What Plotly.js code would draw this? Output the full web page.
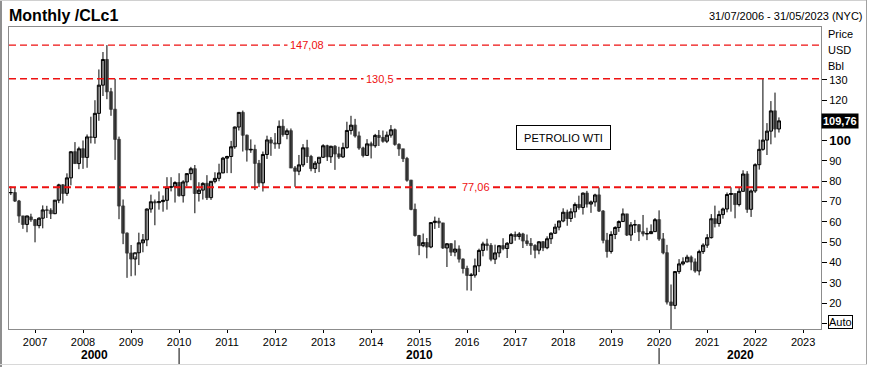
<!DOCTYPE html>
<html><head><meta charset="utf-8">
<script src="https://cdn.plot.ly/plotly-3.0.1.min.js"></script>
<style>html,body{margin:0;padding:0;background:#fff;}#chart{width:869px;height:367px;}</style>
</head><body><div id="chart"></div>
<script>
// ---- DATA (monthly CLc1, Jul 2006 - Jul 2022) ----
const startYear = 2006, startMonth = 7;
const open = [
 74.40,74.40,70.26,62.91,58.73,62.40,
 61.05,58.14,61.79,65.87,65.71,64.01,70.68,78.21,74.04,81.66,94.53,88.71,
 95.98,91.75,101.84,101.58,113.46,127.35,140.00,124.08,115.46,100.64,67.81,54.43,
 44.60,41.68,44.76,49.66,51.12,66.31,69.89,69.45,69.96,70.61,77.00,77.28,
 79.36,72.89,79.66,83.76,86.15,73.97,75.63,78.95,71.92,79.97,81.43,84.11,
 91.38,92.19,96.97,106.72,113.93,102.70,95.42,95.70,88.81,79.20,93.19,100.36,
 98.83,98.48,107.07,103.02,104.87,86.53,84.96,88.06,96.47,92.19,86.24,88.91,
 91.82,97.49,92.05,97.23,93.46,91.97,96.56,105.03,107.65,102.33,96.38,92.72,
 98.42,97.49,102.59,101.58,99.74,102.71,105.37,98.17,95.96,91.16,80.54,66.15,
 53.27,48.24,49.76,47.60,59.63,60.30,59.47,47.12,49.20,45.09,46.59,41.65,
 37.04,33.62,33.75,38.34,45.92,49.10,48.33,41.60,44.70,48.24,46.86,49.44,
 53.72,52.81,54.01,50.60,49.33,48.32,46.04,50.17,47.23,51.67,54.38,57.40,
 60.42,64.73,61.64,64.94,68.57,67.04,74.15,68.76,69.80,73.25,65.31,50.93,
 45.41,53.79,57.22,60.14,63.91,53.50,58.47,58.58,55.10,54.07,54.18,55.17,
 61.06,51.56,44.76,20.48,18.84,35.49,39.27,40.27,42.61,40.22,35.79,45.34,
 48.52,52.20,61.50,59.16,63.58,66.32,73.47,73.95,68.50,75.03,83.57,66.18,
 75.21,88.15,95.72,100.28,104.69,114.67,105.76
];
const high = [
 77.50,77.20,70.80,63.00,63.00,64.00,
 61.40,62.30,68.09,67.90,66.70,70.75,78.77,78.60,83.90,94.74,99.29,97.02,
 100.09,103.05,111.80,119.93,135.09,143.67,147.08,126.00,130.47,102.00,71.00,54.80,
 48.60,43.00,54.66,54.00,66.58,73.38,71.00,75.00,73.00,82.00,82.00,80.00,
 83.95,80.50,83.80,87.09,88.00,79.50,79.50,83.00,80.00,84.43,88.63,92.00,
 92.58,99.88,106.95,114.00,114.83,103.00,100.62,98.00,90.50,94.65,102.44,101.77,
 103.74,109.95,110.55,106.00,106.00,87.50,92.94,98.29,100.42,93.00,90.00,91.50,
 98.24,98.00,97.50,97.80,97.00,99.00,109.32,112.24,110.74,104.50,97.00,100.75,
 99.50,103.35,105.22,104.99,104.50,107.68,106.00,98.70,96.00,92.00,80.70,69.00,
 53.60,54.24,52.00,59.90,62.58,62.00,59.50,49.50,49.50,50.92,48.40,42.00,
 38.39,34.80,41.90,46.78,50.21,51.67,49.50,48.75,48.50,51.93,50.00,54.51,
 55.24,54.94,54.60,53.76,52.00,49.00,50.43,50.50,52.86,54.84,59.05,60.51,
 66.66,66.00,66.66,69.56,72.90,74.46,75.27,70.50,73.85,76.90,65.75,54.55,
 55.37,57.81,60.73,66.60,63.98,59.90,60.94,58.82,63.38,57.10,58.76,61.88,
 65.65,54.50,48.66,29.13,35.78,41.63,42.52,43.78,43.43,41.98,46.26,49.43,
 53.93,63.81,67.98,65.47,67.00,74.45,76.98,74.00,76.67,85.41,84.97,76.00,
 88.84,100.54,130.50,108.64,119.50,123.68,111.45
];
const low = [
 73.20,69.80,59.52,56.55,54.86,60.00,
 49.90,56.80,56.80,61.90,61.40,63.80,69.20,69.00,72.80,78.00,88.62,85.94,
 86.11,86.64,98.65,98.50,109.80,122.00,120.42,112.24,90.51,61.30,49.00,32.40,
 33.20,33.55,38.70,45.00,48.00,64.50,58.32,66.00,65.00,66.00,75.00,69.50,
 72.43,69.50,77.50,80.50,64.24,70.00,71.00,70.76,70.80,79.00,80.00,84.00,
 84.00,84.00,96.00,105.00,94.63,89.69,94.00,75.71,77.11,74.95,91.00,92.52,
 96.00,96.00,102.00,100.68,86.50,77.28,83.00,87.00,89.00,84.90,84.05,84.50,
 91.50,90.00,89.00,85.61,91.00,91.50,96.00,103.00,101.50,95.50,91.77,92.50,
 91.24,96.50,97.37,99.00,98.80,101.50,97.50,92.50,89.50,79.78,65.69,52.70,
 43.58,47.50,42.03,47.00,56.50,57.00,46.68,37.75,43.20,43.00,39.93,34.53,
 26.19,26.05,32.50,35.24,43.00,45.83,40.57,39.19,42.52,46.00,42.20,49.00,
 50.71,51.22,47.09,48.18,43.76,42.05,44.00,45.58,46.50,49.10,54.10,55.82,
 59.80,58.07,59.95,62.00,66.00,63.59,67.03,64.43,67.50,64.86,49.41,42.36,
 44.35,51.48,55.07,59.90,53.02,50.60,54.50,50.52,52.84,50.99,54.00,55.00,
 50.63,44.00,19.27,-37.63,17.00,34.36,38.50,40.00,36.13,34.92,33.64,44.18,
 47.18,51.78,57.25,57.63,61.56,64.68,65.01,61.74,67.58,74.96,64.43,62.43,
 74.27,85.73,95.04,92.93,98.20,101.53,104.00
];
const close = [
 74.40,70.26,62.91,58.73,62.90,61.05,
 58.14,61.79,65.87,65.71,64.01,70.68,78.21,74.04,81.66,94.53,88.71,95.98,
 91.75,101.84,101.58,113.46,127.35,140.00,124.08,115.46,100.64,67.81,54.43,44.60,
 41.68,44.76,49.66,51.12,66.31,69.89,69.45,69.96,70.61,77.00,77.28,79.36,
 72.89,79.66,83.76,86.15,73.97,75.63,78.95,71.92,79.97,81.43,84.11,91.38,
 92.19,96.97,106.72,113.93,102.70,95.42,95.70,88.81,79.20,93.19,100.36,98.83,
 98.48,107.07,103.02,104.87,86.53,84.96,88.06,96.47,92.19,86.24,88.91,91.82,
 97.49,92.05,97.23,93.46,91.97,96.56,105.03,107.65,102.33,96.38,92.72,98.42,
 97.49,102.59,101.58,99.74,102.71,105.37,98.17,95.96,91.16,80.54,66.15,53.27,
 48.24,49.76,47.60,59.63,60.30,59.47,47.12,49.20,45.09,46.59,41.65,37.04,
 33.62,33.75,38.34,45.92,49.10,48.33,41.60,44.70,48.24,46.86,49.44,53.72,
 52.81,54.01,50.60,49.33,48.32,46.04,50.17,47.23,51.67,54.38,57.40,60.42,
 64.73,61.64,64.94,68.57,67.04,74.15,68.76,69.80,73.25,65.31,50.93,45.41,
 53.79,57.22,60.14,63.91,53.50,58.47,58.58,55.10,54.07,54.18,55.17,61.06,
 51.56,44.76,20.48,18.84,35.49,39.27,40.27,42.61,40.22,35.79,45.34,48.52,
 52.20,61.50,59.16,63.58,66.32,73.47,73.95,68.50,75.03,83.57,66.18,75.21,
 88.15,95.72,100.28,104.69,114.67,105.76,109.76
];
const levels = [147.08, 130.5, 77.06];
const levelLabels = ['147,08', '130,5', '77,06'];
const yearTicks = [2007,2008,2009,2010,2011,2012,2013,2014,2015,2016,2017,2018,2019,2020,2021,2022,2023];
const priceTicks = [10,20,30,40,50,60,70,80,90,100,110,120,130];
const priceTickText = ['','20','30','40','50','60','70','80','90','<b><span style="font-size:13px">100</span></b>','','120','130'];
const decades = ['2000','2010','2020'];
const decadeBreaks = ['2010-01-01','2020-01-01'];
const seriesName = 'PETROLIO WTI';
const chartTitle = 'Monthly /CLc1';
const dateRange = '31/07/2006 - 31/05/2023 (NYC)';
const axisUnits = ['Price','USD','Bbl'];

// ---- build ----
const dates = open.map((_, i) => {
  const m = startMonth - 1 + i;
  const y = startYear + Math.floor(m / 12);
  const mm = (m % 12) + 1;
  return y + '-' + String(mm).padStart(2, '0') + '-01';
});
const wx = [], wy = [];
dates.forEach((d, i) => { wx.push(d, d, null); wy.push(low[i], high[i], null); });
const bodyHi = open.map((o, i) => Math.max(o, close[i]));
const bodyLo = open.map((o, i) => Math.min(o, close[i]));

const FONT = '"Liberation Sans", Arial, sans-serif';
const L = 9, R = 821, T = 27, B = 329;
const px = x => (x - L) / (R - L);
const py = y => (B - y) / (B - T);

const traces = [
  {type: 'scatter', mode: 'lines', x: wx, y: wy, line: {color: '#000', width: 1}, hoverinfo: 'skip', showlegend: false},
  {type: 'candlestick', x: dates, open: open, high: bodyHi, low: bodyLo, close: close,
   increasing: {line: {color: '#000', width: 1}, fillcolor: '#fff'},
   decreasing: {line: {color: '#666', width: 1}, fillcolor: '#666'},
   whiskerwidth: 0, hoverinfo: 'skip', showlegend: false}
];

const red = '#ee1111';
const shapes = [];
const annotations = [];
const levelWidths = [1.4, 1.4, 2];
const levelLabelX = [307, 380, 476];
levels.forEach((v, i) => {
  shapes.push({type: 'line', xref: 'paper', x0: 0, x1: 1, yref: 'y', y0: v, y1: v,
    line: {color: red, width: levelWidths[i], dash: '7px,4px'}, layer: 'above'});
  annotations.push({xref: 'paper', x: px(levelLabelX[i]), xanchor: 'center', yref: 'y', y: v, yanchor: 'middle', text: levelLabels[i],
    showarrow: false, bgcolor: '#fff', borderpad: 2, font: {family: FONT, size: 11, color: red}});
});
decadeBreaks.forEach(d => shapes.push({type: 'line', xref: 'x', x0: d, x1: d, yref: 'paper', y0: py(348), y1: py(364), line: {color: '#000', width: 1}}));
// outer frame
shapes.push({type: 'rect', xref: 'paper', yref: 'paper', x0: px(0), x1: px(2), y0: py(0), y1: py(367), line: {width: 0}, fillcolor: '#8f8f8f'});
shapes.push({type: 'line', xref: 'paper', yref: 'paper', x0: px(0), x1: px(867), y0: py(0.5), y1: py(0.5), line: {color: '#d0d0d0', width: 1}});
shapes.push({type: 'line', xref: 'paper', yref: 'paper', x0: px(866.5), x1: px(866.5), y0: py(0), y1: py(365), line: {color: '#a0a0a0', width: 1}});
shapes.push({type: 'line', xref: 'paper', yref: 'paper', x0: px(0), x1: px(867), y0: py(364.5), y1: py(364.5), line: {color: '#d8d8d8', width: 1}});

annotations.push({xref: 'paper', yref: 'paper', x: px(7), y: py(15), xanchor: 'left', yanchor: 'middle',
  text: '<b>' + chartTitle + '</b>', showarrow: false, font: {family: FONT, size: 16, color: '#000'}});
annotations.push({xref: 'paper', yref: 'paper', x: px(865), y: py(16), xanchor: 'right', yanchor: 'middle',
  text: dateRange, showarrow: false, font: {family: FONT, size: 11, color: '#000'}});
axisUnits.forEach((t, i) => annotations.push({xref: 'paper', yref: 'paper', x: px(826), y: py(34 + 16 * i), xanchor: 'left', yanchor: 'middle',
  text: t, showarrow: false, font: {family: FONT, size: 11, color: '#000'}}));
annotations.push({xref: 'paper', yref: 'paper', x: px(563.5), xanchor: 'center', y: py(137.5), yanchor: 'middle', text: seriesName, showarrow: false,
  width: 93, height: 23, borderpad: 0, bordercolor: '#000', borderwidth: 1, bgcolor: '#fff',
  font: {family: FONT, size: 11, color: '#000'}});
const last = close[close.length - 1];
annotations.push({xref: 'paper', x: px(821), xanchor: 'left', yref: 'y', y: last, yanchor: 'middle',
  text: '<b>' + last.toFixed(2).replace('.', ',') + '</b>', showarrow: false, bgcolor: '#000', borderpad: 1,
  font: {family: FONT, size: 11, color: '#fff'}});
annotations.push({xref: 'paper', yref: 'paper', x: px(828), y: py(322), xanchor: 'left', yanchor: 'middle',
  text: 'Auto', showarrow: false, bordercolor: '#000', borderwidth: 1, borderpad: 0, bgcolor: '#fff',
  font: {family: FONT, size: 11, color: '#000'}});
const decadeX = [94, 419, 740];
decades.forEach((t, i) => annotations.push({xref: 'paper', yref: 'paper', x: px(decadeX[i]), xanchor: 'center', y: py(355), yanchor: 'middle',
  text: '<b>' + t + '</b>', showarrow: false, font: {family: FONT, size: 12, color: '#000'}}));

const layout = {
  width: 869, height: 367,
  margin: {l: L, r: 869 - R, t: T, b: 367 - B, pad: 0},
  paper_bgcolor: '#fff', plot_bgcolor: '#fff',
  showlegend: false, boxgap: 0.15, boxgroupgap: 0,
  font: {family: FONT, size: 11, color: '#000'},
  xaxis: {type: 'date', range: ['2006-06-17', '2023-05-17'], rangeslider: {visible: false},
    tickmode: 'array', tickvals: yearTicks.map(y => y + '-01-01'), ticktext: yearTicks.map(String),
    ticks: 'outside', ticklen: 3, tickcolor: '#000', tickfont: {family: FONT, size: 11, color: '#000'},
    showline: true, mirror: true, linecolor: '#8c8c8c', linewidth: 1, showgrid: false, zeroline: false, fixedrange: true},
  yaxis: {side: 'right', range: [7.2, 156], tickmode: 'array', tickvals: priceTicks, ticktext: priceTickText,
    ticks: 'outside', ticklen: 5, tickcolor: '#000', tickfont: {family: FONT, size: 11, color: '#000'},
    showline: true, mirror: true, linecolor: '#8c8c8c', linewidth: 1, showgrid: false, zeroline: false, fixedrange: true},
  shapes: shapes, annotations: annotations
};
Plotly.newPlot('chart', traces, layout, {staticPlot: true, displayModeBar: false});
</script></body></html>
